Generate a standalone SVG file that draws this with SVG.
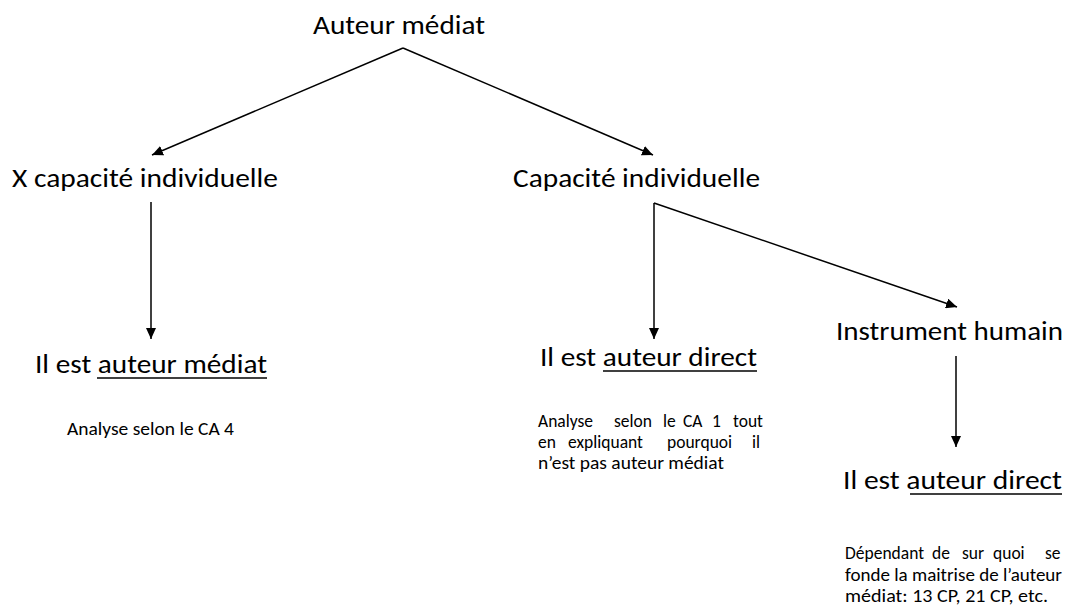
<svg xmlns="http://www.w3.org/2000/svg" width="1070" height="608" viewBox="0 0 1070 608">
<defs>
<style>
.big{font-family:Carlito,Lato,"Open Sans",sans-serif;font-size:26px;fill:#000}
.small{font-family:Carlito,Lato,"Open Sans",sans-serif;font-size:17.5px;fill:#000}
.conn{stroke:#000;stroke-width:1.5;fill:none}
.ul{stroke:#000;stroke-width:1.5}
</style>
<marker id="arr" markerUnits="userSpaceOnUse" markerWidth="12" markerHeight="10" refX="11" refY="5" orient="auto">
<path d="M0,0 L11,5 L0,10 Z" fill="#000"/>
</marker>
</defs>
<rect width="1070" height="608" fill="#fff"/>
<g id="connectors">
<path class="conn" d="M403,48 L152,155" marker-end="url(#arr)"/>
<path class="conn" d="M403,48 L653,155" marker-end="url(#arr)"/>
<path class="conn" d="M151,202 L151,339" marker-end="url(#arr)"/>
<path class="conn" d="M654,203 L654,339" marker-end="url(#arr)"/>
<path class="conn" d="M654,203 L957,307" marker-end="url(#arr)"/>
<path class="conn" d="M956,356 L956,447" marker-end="url(#arr)"/>
</g>
<g id="root">
<text class="big" x="313" y="34" textLength="172" lengthAdjust="spacingAndGlyphs">Auteur médiat</text>
</g>
<g id="x-capacite">
<text class="big" x="12" y="187" textLength="266" lengthAdjust="spacingAndGlyphs">X capacité individuelle</text>
</g>
<g id="capacite">
<text class="big" x="513" y="187" textLength="247" lengthAdjust="spacingAndGlyphs">Capacité individuelle</text>
</g>
<g id="auteur-mediat">
<text class="big" x="35" y="373" textLength="232" lengthAdjust="spacingAndGlyphs">Il est auteur médiat</text>
<line class="ul" x1="97" y1="378" x2="267" y2="378"/>
<text class="small" x="67" y="435" textLength="167" lengthAdjust="spacingAndGlyphs">Analyse selon le CA 4</text>
</g>
<g id="auteur-direct-1">
<text class="big" x="540" y="366" textLength="217" lengthAdjust="spacingAndGlyphs">Il est auteur direct</text>
<line class="ul" x1="603" y1="371" x2="757" y2="371"/>
<text class="small" y="427"><tspan x="538">Analyse</tspan><tspan x="614">selon</tspan><tspan x="663">le</tspan><tspan x="683">CA</tspan><tspan x="712">1</tspan><tspan x="733">tout</tspan></text>
<text class="small" y="448"><tspan x="538">en</tspan><tspan x="568">expliquant</tspan><tspan x="667">pourquoi</tspan><tspan x="752">il</tspan></text>
<text class="small" x="538" y="469" textLength="186" lengthAdjust="spacingAndGlyphs">n’est pas auteur médiat</text>
</g>
<g id="instrument">
<text class="big" x="836" y="340" textLength="227" lengthAdjust="spacingAndGlyphs">Instrument humain</text>
</g>
<g id="auteur-direct-2">
<text class="big" x="843" y="489" textLength="219" lengthAdjust="spacingAndGlyphs">Il est auteur direct</text>
<line class="ul" x1="910" y1="494" x2="1062" y2="494"/>
<text class="small" y="559"><tspan x="845">Dépendant</tspan><tspan x="932">de</tspan><tspan x="962">sur</tspan><tspan x="993">quoi</tspan><tspan x="1045">se</tspan></text>
<text class="small" x="845" y="581" textLength="217" lengthAdjust="spacingAndGlyphs">fonde la maitrise de l’auteur</text>
<text class="small" x="845" y="602" textLength="203" lengthAdjust="spacingAndGlyphs">médiat: 13 CP, 21 CP, etc.</text>
</g>
</svg>
